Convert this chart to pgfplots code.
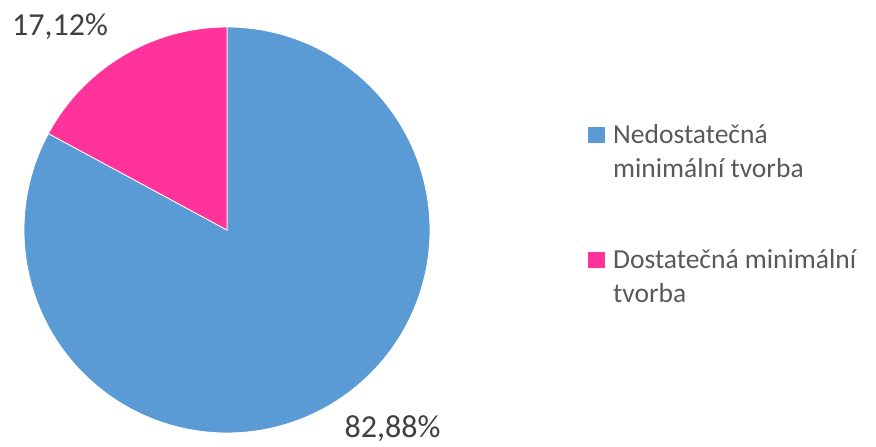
\documentclass[border=0pt]{standalone}
\usepackage{pgfplots}
\pgfplotsset{compat=1.18}
\usepackage{fontspec}
\setmainfont{Carlito}
\definecolor{pieblue}{HTML}{5B9BD5}
\definecolor{piepink}{HTML}{FF3399}
\definecolor{labelgray}{HTML}{404040}
\definecolor{leggray}{HTML}{595959}
\begin{document}
\begin{tikzpicture}
% values (percent)
\def\valA{82.88}% Nedostatecna minimalni tvorba
\def\valB{17.12}% Dostatecna minimalni tvorba
\pgfmathsetmacro\angA{90-3.6*\valA}
\begin{axis}[
  scale only axis, width=876pt, height=447pt,
  xmin=0, xmax=876, ymin=0, ymax=447,
  hide axis, clip=false,
]
\addplot[fill=pieblue, draw=white, line width=0.8pt, domain=\angA:90, samples=240, variable=\t]
  ({227+203*cos(t)},{217+203*sin(t)}) -- (axis cs:227,217) -- cycle;
\addplot[fill=piepink, draw=white, line width=0.8pt, domain=90:\angA+360, samples=80, variable=\t]
  ({227+203*cos(t)},{217+203*sin(t)}) -- (axis cs:227,217) -- cycle;
% data labels
\node[anchor=base, text=labelgray, font=\fontsize{32}{38}\selectfont, inner sep=0pt] at (axis cs:60,411) {17,12\%};
\node[anchor=base, text=labelgray, font=\fontsize{32}{38}\selectfont, inner sep=0pt] at (axis cs:392.5,9) {82,88\%};
% legend
\fill[pieblue] (axis cs:588,320) rectangle (axis cs:605,304);
\fill[piepink] (axis cs:588,195) rectangle (axis cs:605,179);
\node[anchor=base west, text=leggray, font=\fontsize{27.5}{34}\selectfont, align=left, inner sep=0pt] at (axis cs:613,269) {Nedostatečná\\minimální tvorba};
\node[anchor=base west, text=leggray, font=\fontsize{27.5}{34}\selectfont, align=left, inner sep=0pt] at (axis cs:613,144) {Dostatečná minimální\\tvorba};
\end{axis}
\pgfresetboundingbox
\path[use as bounding box] (current axis.south west) rectangle (current axis.north east);
\end{tikzpicture}
\end{document}
